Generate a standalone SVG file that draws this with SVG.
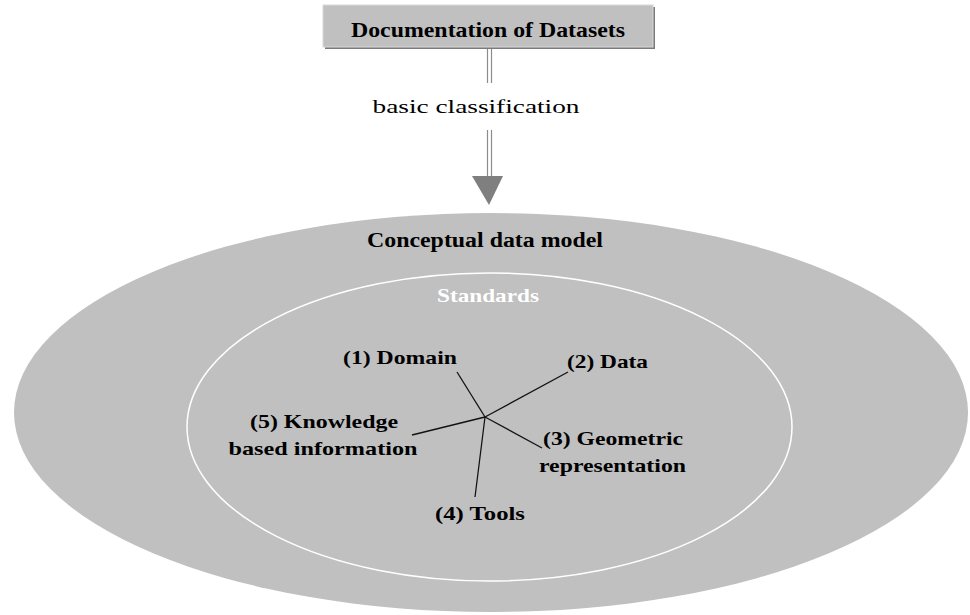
<svg xmlns="http://www.w3.org/2000/svg" width="970" height="615" viewBox="0 0 970 615">
  <style>
    .lbl { font-family: "Liberation Serif", "Times New Roman", serif; font-weight: bold; fill: #000; }
    .reg { font-family: "Liberation Serif", "Times New Roman", serif; fill: #000; }
    .spoke { stroke: #111; stroke-width: 1.3; fill: none; }
    .shaft { stroke: #8c8c8c; stroke-width: 1.2; }
  </style>
  <rect x="0" y="0" width="970" height="615" fill="#fff"/>

  <!-- outer region: conceptual data model -->
  <g id="conceptual-model">
    <ellipse cx="491" cy="412.5" rx="477" ry="199.5" fill="#c0c0c0"/>
    <text class="lbl" x="485" y="247" font-size="20" text-anchor="middle" textLength="236" lengthAdjust="spacingAndGlyphs">Conceptual data model</text>
  </g>

  <!-- inner region: standards -->
  <g id="standards">
    <ellipse cx="489.5" cy="427" rx="302.5" ry="154" fill="none" stroke="#fff" stroke-width="1.5"/>
    <text x="488" y="302" font-family="Liberation Serif, serif" font-weight="bold" font-size="19" fill="#fff" text-anchor="middle" textLength="102" lengthAdjust="spacingAndGlyphs">Standards</text>
  </g>

  <!-- source box -->
  <g id="documentation">
    <rect x="325" y="7" width="330" height="42" fill="#7a7a7a"/>
    <rect x="323" y="5" width="330" height="42" fill="#c0c0c0" stroke="#d8d8d8" stroke-width="1"/>
    <text class="lbl" x="488" y="37" font-size="21" text-anchor="middle" textLength="274" lengthAdjust="spacingAndGlyphs">Documentation of Datasets</text>
  </g>

  <!-- classification arrow -->
  <g id="connectors">
    <line class="shaft" x1="487.5" y1="49" x2="487.5" y2="83"/>
    <line class="shaft" x1="491.5" y1="49" x2="491.5" y2="83"/>
    <line class="shaft" x1="487.5" y1="130" x2="487.5" y2="178"/>
    <line class="shaft" x1="491.5" y1="130" x2="491.5" y2="178"/>
    <polygon points="472,176 503,176 489,205" fill="#7f7f7f"/>
    <text class="reg" x="476" y="113" font-size="18" text-anchor="middle" textLength="207" lengthAdjust="spacingAndGlyphs">basic classification</text>

    <line class="spoke" x1="485" y1="417" x2="457" y2="372"/>
    <line class="spoke" x1="485" y1="417" x2="568" y2="372"/>
    <line class="spoke" x1="485" y1="417" x2="542" y2="448"/>
    <line class="spoke" x1="485" y1="417" x2="475" y2="497"/>
    <line class="spoke" x1="485" y1="417" x2="412" y2="435"/>
  </g>

  <g id="domain">
    <text class="lbl" x="400" y="364" font-size="19" text-anchor="middle" textLength="114" lengthAdjust="spacingAndGlyphs">(1) Domain</text>
  </g>
  <g id="data">
    <text class="lbl" x="607.5" y="368" font-size="19" text-anchor="middle" textLength="81" lengthAdjust="spacingAndGlyphs">(2) Data</text>
  </g>
  <g id="geometric">
    <text class="lbl" x="613" y="445" font-size="19" text-anchor="middle" textLength="140" lengthAdjust="spacingAndGlyphs">(3) Geometric</text>
    <text class="lbl" x="612.5" y="472" font-size="19" text-anchor="middle" textLength="147" lengthAdjust="spacingAndGlyphs">representation</text>
  </g>
  <g id="tools">
    <text class="lbl" x="480" y="520" font-size="19" text-anchor="middle" textLength="90" lengthAdjust="spacingAndGlyphs">(4) Tools</text>
  </g>
  <g id="knowledge">
    <text class="lbl" x="324" y="428" font-size="19" text-anchor="middle" textLength="148" lengthAdjust="spacingAndGlyphs">(5) Knowledge</text>
    <text class="lbl" x="323" y="455" font-size="19" text-anchor="middle" textLength="189" lengthAdjust="spacingAndGlyphs">based information</text>
  </g>
</svg>
